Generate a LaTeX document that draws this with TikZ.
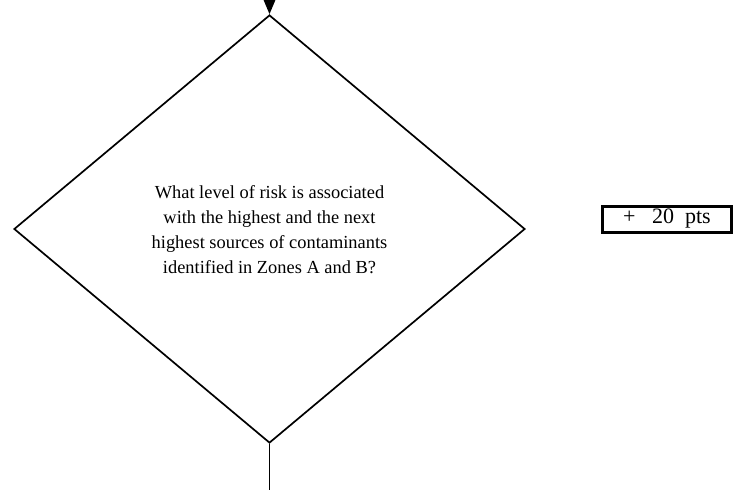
\documentclass[tikz,border=0pt]{standalone}
\usepackage{fontspec}
\setmainfont{Liberation Serif}
\usetikzlibrary{shapes.geometric,arrows.meta}
\begin{document}
\begin{tikzpicture}
[x=1pt,y=-1pt,
decision/.style={diamond,draw,line width=1.7pt,inner sep=0pt,minimum width=511pt,minimum height=428pt},
question/.style={align=center,font=\fontsize{18.4}{25}\selectfont},
pointbox/.style={draw,line width=3pt,minimum width=129pt,minimum height=26pt,inner sep=0pt,font=\fontsize{22}{25}\selectfont}]
\useasboundingbox (0,0) rectangle (740,490);
\node (q) at (269.5,229) [decision] {};
\node (qtext) at (269.5,230) [question] {What level of risk is associated\\with the highest and the next\\highest sources of contaminants\\identified in Zones A and B?};
\node (pts) at (667,219) [pointbox] {+\ \ \ 20\ \ pts};
\coordinate (top) at (269.5,0);
\coordinate (bot) at (269.5,490);
\draw[line width=1.7pt,-{Triangle[width=13pt,length=16pt]}] (top) -- (q.north);
\draw[line width=1.7pt] (q.south) -- (bot);

\end{tikzpicture}
\end{document}
